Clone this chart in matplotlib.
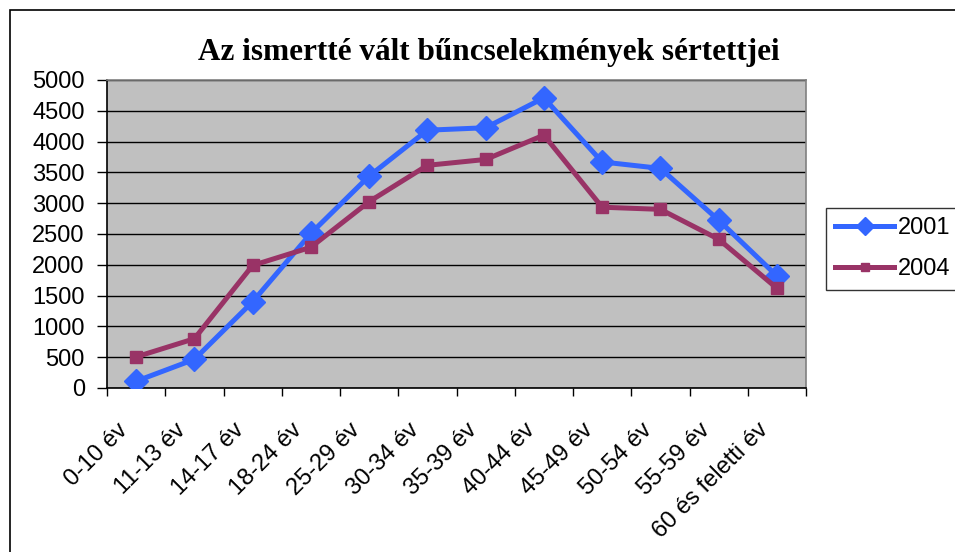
import matplotlib
matplotlib.use("Agg")
import matplotlib.pyplot as plt
from matplotlib.patches import Rectangle
from matplotlib.transforms import ScaledTranslation

categories = ["0-10 év", "11-13 év", "14-17 év", "18-24 év", "25-29 év", "30-34 év",
              "35-39 év", "40-44 év", "45-49 év", "50-54 év", "55-59 év", "60 és feletti év"]
s2001 = [110, 465, 1400, 2510, 3440, 4185, 4225, 4710, 3670, 3565, 2725, 1820]
s2004 = [505, 800, 1990, 2285, 3025, 3615, 3710, 4105, 2935, 2900, 2415, 1620]
yticks = [0, 500, 1000, 1500, 2000, 2500, 3000, 3500, 4000, 4500, 5000]

W, H = 955, 552
fig = plt.figure(figsize=(W / 100, H / 100), dpi=100)
fig.patch.set_facecolor("white")
# outer chart border (bottom and right run off the canvas)
fig.patches.append(Rectangle((10 / W, -0.1), 1.0, 1.1 - 10 / H, transform=fig.transFigure,
                             fill=False, edgecolor="black", linewidth=1.2))

ax = fig.add_axes([107 / W, 1 - 388 / H, 699 / W, 308 / H])
ax.set_facecolor("#C0C0C0")
x = list(range(len(categories)))

ax.plot(x, s2001, color="#3366FF", linewidth=3.6, marker="D", markersize=12,
        label="2001", zorder=3)
ax.plot(x, s2004, color="#993366", linewidth=3.6, marker="s", markersize=8,
        label="2004", zorder=3)

ax.set_ylim(0, 5000)
ax.set_xlim(-0.5, len(categories) - 0.5)
ax.set_yticks(yticks)
ax.yaxis.grid(True, color="black", linewidth=1)
ax.set_axisbelow(True)

ax.set_xticks([i - 0.5 for i in range(len(categories) + 1)])
ax.set_xticklabels([])
ax.set_xticks(x, minor=True)
ax.set_xticklabels(categories, minor=True, rotation=45, ha="right", va="center",
                   rotation_mode="anchor", fontsize=17, family="Liberation Sans")
ax.tick_params(axis="x", which="minor", length=0, pad=28)
ax.tick_params(axis="x", which="major", length=6, width=1)
ax.tick_params(axis="y", length=7, width=1, labelsize=17, pad=9)
for lab in ax.get_yticklabels():
    lab.set_family("Liberation Sans")
shift = ScaledTranslation(-12 / 100, 0, fig.dpi_scale_trans)
for lab in ax.get_xticklabels(minor=True):
    lab.set_transform(lab.get_transform() + shift)

ax.spines["left"].set_color("black")
ax.spines["bottom"].set_color("black")
ax.spines["top"].set_color("#808080")
ax.spines["right"].set_color("#808080")
for sp in ax.spines.values():
    sp.set_linewidth(1.2)

fig.text(489 / W, 1 - 60 / H, "Az ismertté vált bűncselekmények sértettjei",
         ha="center", va="baseline", fontsize=22.5, fontweight="bold", family="Liberation Serif")

leg = fig.legend(loc="upper left", bbox_to_anchor=(826 / W, 1 - 208 / H),
                 prop={"family": "Liberation Sans", "size": 17}, frameon=True,
                 fancybox=False, edgecolor="black", handlelength=2.5,
                 borderpad=0.4, labelspacing=0.8, handletextpad=0.15,
                 borderaxespad=0, markerscale=0.8)
leg.get_frame().set_linewidth(1)

fig.savefig("out.png", dpi=100)
